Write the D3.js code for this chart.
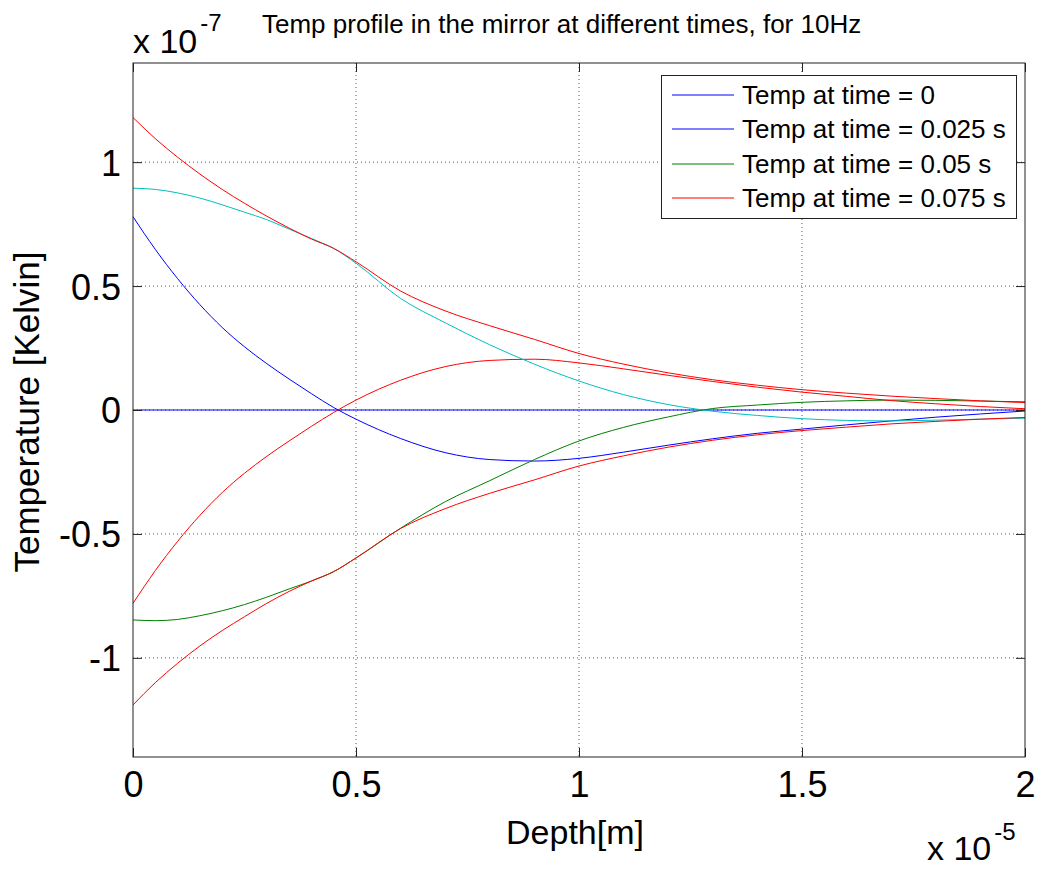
<!DOCTYPE html>
<html>
<head>
<meta charset="utf-8">
<script src="https://cdn.jsdelivr.net/npm/d3@7"></script>
<style>
  html, body { margin: 0; padding: 0; background: #fff; }
  svg { display: block; }
  text { font-family: "Liberation Sans", Arial, Helvetica, sans-serif; fill: #000; }
</style>
</head>
<body>
<svg id="chart" width="1039" height="869"></svg>
<script>
// Depth in units of 1e-5 m
const depth = [0, 0.05, 0.1, 0.15, 0.2, 0.25, 0.3, 0.35, 0.4, 0.45, 0.5, 0.6, 0.7, 0.8, 0.9, 1.0, 1.1, 1.2, 1.3, 1.4, 1.5, 1.6, 1.7, 1.8, 1.9, 2.0];

// Temperatures in units of 1e-7 K
const temp_t0 = [0, 0, 0, 0, 0, 0, 0, 0, 0, 0, 0, 0, 0, 0, 0, 0, 0, 0, 0, 0, 0, 0, 0, 0, 0, 0];
const temp_t025 = [0.78, 0.648, 0.53, 0.425, 0.333, 0.255, 0.187, 0.125, 0.066, 0.01, -0.037, -0.115, -0.172, -0.2, -0.206, -0.195, -0.17, -0.142, -0.116, -0.094, -0.077, -0.06, -0.044, -0.029, -0.016, -0.004];
const temp_t05 = [-0.847, -0.85, -0.845, -0.83, -0.81, -0.785, -0.755, -0.722, -0.69, -0.652, -0.597, -0.477, -0.37, -0.285, -0.2, -0.125, -0.07, -0.028, 0.006, 0.02, 0.031, 0.037, 0.04, 0.039, 0.036, 0.033];
const temp_t075 = [-0.78, -0.648, -0.53, -0.425, -0.333, -0.255, -0.187, -0.125, -0.066, -0.01, 0.04, 0.12, 0.175, 0.2, 0.205, 0.19, 0.166, 0.14, 0.115, 0.092, 0.072, 0.055, 0.038, 0.025, 0.014, 0.005];
const temp_t1 = [0.895, 0.89, 0.876, 0.855, 0.828, 0.798, 0.768, 0.73, 0.692, 0.652, 0.592, 0.45, 0.352, 0.263, 0.185, 0.117, 0.062, 0.022, -0.005, -0.022, -0.035, -0.042, -0.044, -0.041, -0.037, -0.033];
const envUpper = [1.18, 1.095, 1.02, 0.952, 0.89, 0.834, 0.782, 0.734, 0.69, 0.652, 0.598, 0.48, 0.4, 0.34, 0.285, 0.228, 0.185, 0.15, 0.122, 0.1, 0.082, 0.068, 0.056, 0.046, 0.037, 0.03];
const envLower = [-1.19, -1.1, -1.022, -0.952, -0.89, -0.834, -0.78, -0.732, -0.69, -0.652, -0.597, -0.478, -0.398, -0.336, -0.282, -0.226, -0.185, -0.15, -0.122, -0.1, -0.083, -0.069, -0.056, -0.046, -0.037, -0.03];

const xTicks = [0, 0.5, 1, 1.5, 2];
const yTicks = [-1, -0.5, 0, 0.5, 1];
const legendLabels = ["Temp at time = 0", "Temp at time = 0.025 s", "Temp at time = 0.05 s", "Temp at time = 0.075 s"];
const legendColors = ["#0000ff", "#0000ff", "#008000", "#ff0000"];

const plotted = [
  {values: temp_t0, color: "#0000ff"},
  {values: temp_t025, color: "#0000ff"},
  {values: temp_t05, color: "#008000"},
  {values: temp_t075, color: "#ff0000"},
  {values: temp_t1, color: "#00bfbf"},
  {values: envUpper, color: "#ff0000"},
  {values: envLower, color: "#ff0000"}
];

const L = 133, R = 1025, T = 63, B = 757;
const svg = d3.select("#chart");
const x = d3.scaleLinear().domain([0, 2]).range([L, R]);
const y = d3.scaleLinear().domain([-1.4, 1.4]).range([B, T]);
const fmt = d => String(d);

// grid
const grid = svg.append("g");
grid.selectAll("line.gx").data(xTicks.filter(d => d > 0 && d < 2)).enter().append("line")
  .attr("x1", d => x(d)).attr("x2", d => x(d)).attr("y1", T).attr("y2", B)
  .attr("stroke", "#555").attr("stroke-width", 1).attr("stroke-dasharray", "1,3");
grid.selectAll("line.gy").data(yTicks).enter().append("line")
  .attr("x1", L).attr("x2", R).attr("y1", d => y(d)).attr("y2", d => y(d))
  .attr("stroke", "#555").attr("stroke-width", 1).attr("stroke-dasharray", "1,3");

// lines
const line = d3.line().x((d, i) => x(depth[i])).y(d => y(d)).curve(d3.curveMonotoneX);
svg.append("g").selectAll("path").data(plotted).enter().append("path")
  .attr("d", d => line(d.values))
  .attr("fill", "none").attr("stroke", d => d.color).attr("stroke-width", 1);

// axes (ticks inside)
const tl = 9;
const axB = svg.append("g").attr("transform", `translate(0,${B})`)
  .call(d3.axisBottom(x).tickValues(xTicks).tickSizeInner(-tl).tickSizeOuter(0).tickPadding(14).tickFormat(fmt));
const axT = svg.append("g").attr("transform", `translate(0,${T})`)
  .call(d3.axisTop(x).tickValues(xTicks).tickSizeInner(-tl).tickSizeOuter(0).tickFormat(""));
const axL = svg.append("g").attr("transform", `translate(${L},0)`)
  .call(d3.axisLeft(y).tickValues(yTicks).tickSizeInner(-tl).tickSizeOuter(0).tickPadding(12).tickFormat(fmt));
const axR = svg.append("g").attr("transform", `translate(${R},0)`)
  .call(d3.axisRight(y).tickValues(yTicks).tickSizeInner(-tl).tickSizeOuter(0).tickFormat(""));
[axB, axT, axL, axR].forEach(a => {
  a.select(".domain").remove();
  a.selectAll(".tick line").attr("stroke", "#222");
});
axB.selectAll(".tick text").attr("font-size", 36).attr("font-family", "Liberation Sans, Arial, sans-serif").attr("fill", "#000");
axL.selectAll(".tick text").attr("font-size", 36).attr("font-family", "Liberation Sans, Arial, sans-serif").attr("fill", "#000").attr("dy", "0.36em");

// box
svg.append("rect").attr("x", L).attr("y", T).attr("width", R - L).attr("height", B - T)
  .attr("fill", "none").attr("stroke", "#222").attr("stroke-width", 1);

// legend
const lg = svg.append("g");
lg.append("rect").attr("x", 661.5).attr("y", 75.5).attr("width", 355).attr("height", 143)
  .attr("fill", "#fff").attr("stroke", "#222").attr("stroke-width", 1);
const rows = lg.selectAll("g.row").data(legendLabels).enter().append("g")
  .attr("transform", (d, i) => `translate(0,${Math.round(95 + i * 34.4)})`);
rows.append("line").attr("x1", 672).attr("x2", 734).attr("y1", 0).attr("y2", 0)
  .attr("stroke", (d, i) => legendColors[i]).attr("stroke-width", 1.2);
rows.append("text").attr("x", 742).attr("y", 0).attr("dy", "0.36em")
  .attr("font-size", 26).text(d => d);

// title
svg.append("text").attr("x", 262).attr("y", 33).attr("font-size", 26)
  .text("Temp profile in the mirror at different times, for 10Hz");

// exponent labels
const e7 = svg.append("text").attr("x", 133).attr("y", 53).attr("font-size", 34);
e7.append("tspan").text("x 10");
e7.append("tspan").attr("font-size", 24).attr("dy", -22).attr("dx", 3).text("-7");
const e5 = svg.append("text").attr("x", 927).attr("y", 860).attr("font-size", 34);
e5.append("tspan").text("x 10");
e5.append("tspan").attr("font-size", 24).attr("dy", -20).attr("dx", 3).text("-5");

// axis labels
svg.append("text").attr("x", 575).attr("y", 844).attr("text-anchor", "middle").attr("font-size", 34)
  .text("Depth[m]");
svg.append("text").attr("transform", "translate(39,412) rotate(-90)").attr("text-anchor", "middle").attr("font-size", 35)
  .text("Temperature [Kelvin]");
</script>
</body>
</html>
